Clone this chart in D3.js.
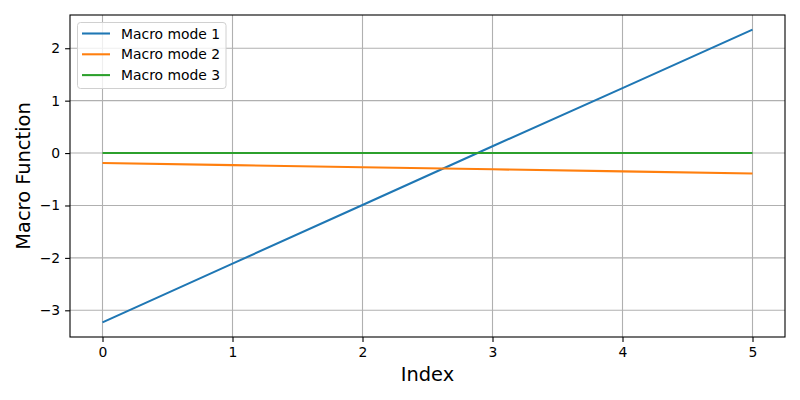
<!DOCTYPE html>
<html><head><meta charset="utf-8">
<script src="https://cdn.jsdelivr.net/npm/d3@7"></script>
<style>body{margin:0;background:#fff}svg text{font-family:"DejaVu Sans",sans-serif}</style>
</head><body><svg id="c" width="800" height="400"></svg>
<script>
const indices = [0, 1, 2, 3, 4, 5];
const mode1 = [-3.23, -2.11, -0.99, 0.13, 1.24, 2.355];
const mode2 = [-0.19, -0.23, -0.27, -0.31, -0.35, -0.39];
const mode3 = [0, 0, 0, 0, 0, 0];
const seriesNames = ["Macro mode 1", "Macro mode 2", "Macro mode 3"];
const colors = ["#1f77b4", "#ff7f0e", "#2ca02c"];
const xTicks = [0, 1, 2, 3, 4, 5];
const yTicks = [-3, -2, -1, 0, 1, 2];

const svg = d3.select("#c");
const L = 70, R = 785, T = 15, B = 337;
const allY = mode1.concat(mode2, mode3);
const ymin = d3.min(allY), ymax = d3.max(allY), ys = ymax - ymin;
const x = d3.scaleLinear().domain([-0.25, 5.25]).range([L, R]);
const y = d3.scaleLinear().domain([ymin - 0.05 * ys, ymax + 0.05 * ys]).range([B, T]);

const g = svg.append("g");
// grid
g.selectAll(".gx").data(xTicks).enter().append("line")
  .attr("x1", d => x(d)).attr("x2", d => x(d)).attr("y1", T).attr("y2", B)
  .attr("stroke", "#b0b0b0").attr("stroke-width", 1.1);
g.selectAll(".gy").data(yTicks).enter().append("line")
  .attr("y1", d => y(d)).attr("y2", d => y(d)).attr("x1", L).attr("x2", R)
  .attr("stroke", "#b0b0b0").attr("stroke-width", 1.1);

const line = d3.line().x((d, i) => x(indices[i])).y(d => y(d));
[mode1, mode2, mode3].forEach((s, k) => {
  g.append("path").datum(s).attr("d", line).attr("fill", "none")
    .attr("stroke", colors[k]).attr("stroke-width", 2.08);
});

// frame
g.append("rect").attr("x", L).attr("y", T).attr("width", R - L).attr("height", B - T)
  .attr("fill", "none").attr("stroke", "#000").attr("stroke-width", 1.1);

const fmt = d => (d < 0 ? "\u2212" + Math.abs(d) : String(d));
const xa = svg.append("g").attr("transform", `translate(0,${B})`)
  .call(d3.axisBottom(x).tickValues(xTicks).tickFormat(fmt).tickSize(4.9).tickPadding(4.9));
const ya = svg.append("g").attr("transform", `translate(${L},0)`)
  .call(d3.axisLeft(y).tickValues(yTicks).tickFormat(fmt).tickSize(4.9).tickPadding(4.9));
[xa, ya].forEach(a => {
  a.select(".domain").remove();
  a.selectAll("line").attr("stroke", "#000").attr("stroke-width", 1.1);
  a.selectAll("text").attr("font-size", "13.9px").attr("fill", "#000")
    .attr("font-family", "DejaVu Sans");
});

svg.append("text").attr("x", (L + R) / 2).attr("y", 381).attr("text-anchor", "middle")
  .attr("font-size", "19.4px").text("Index");
svg.append("text").attr("transform", `translate(30,${(T + B) / 2}) rotate(-90)`)
  .attr("text-anchor", "middle").attr("font-size", "19.4px").text("Macro Function");

// legend
const lg = svg.append("g");
lg.append("rect").attr("x", 77.5).attr("y", 22.5).attr("width", 148.5).attr("height", 66)
  .attr("rx", 3).attr("fill", "#fff").attr("fill-opacity", 0.8)
  .attr("stroke", "#d0d0d0").attr("stroke-width", 1);
seriesNames.forEach((n, k) => {
  const yy = 33.5 + k * 20.8;
  lg.append("line").attr("x1", 82).attr("x2", 110).attr("y1", yy).attr("y2", yy)
    .attr("stroke", colors[k]).attr("stroke-width", 2.08);
  lg.append("text").attr("x", 121).attr("y", yy + 5).attr("font-size", "13.9px")
    .attr("fill", "#000").text(n);
});
</script></body></html>
